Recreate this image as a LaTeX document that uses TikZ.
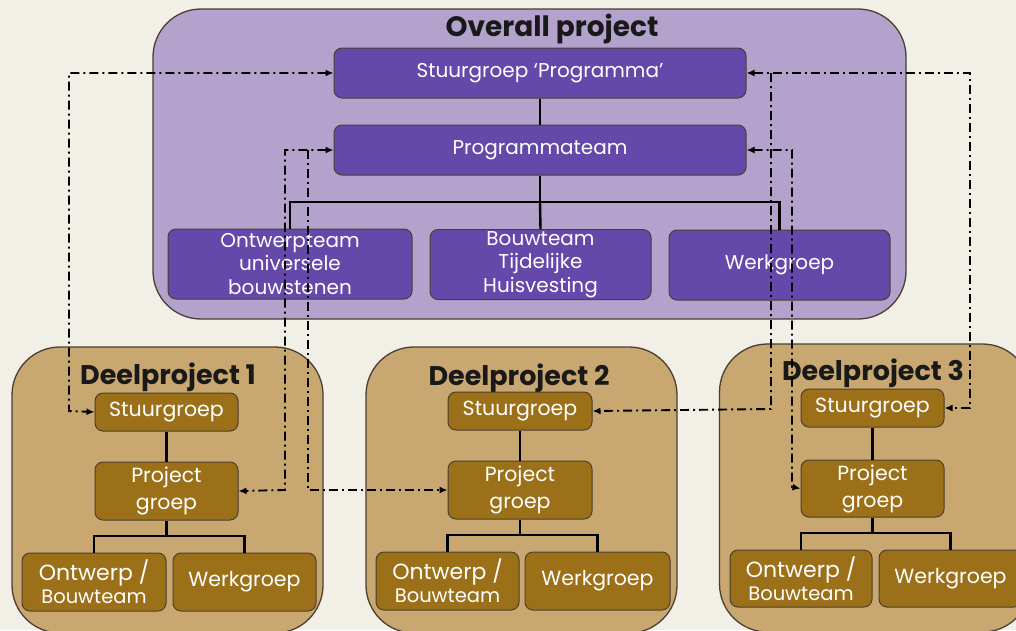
\documentclass[tikz,border=0pt]{standalone}
\usepackage{fontspec}
\setmainfont{Poppins}
\usetikzlibrary{arrows.meta}
\definecolor{bg}{HTML}{F2EFE6}
\definecolor{lav}{HTML}{B3A3CC}
\definecolor{purp}{HTML}{6448AA}
\definecolor{tan}{HTML}{C8A870}
\definecolor{gold}{HTML}{9C7019}
\definecolor{frame}{HTML}{4A3F30}
\tikzset{
  outerbox/.style={draw=frame, line width=1.3pt, rounded corners=48pt, inner sep=0pt},
  pbox/.style={draw=frame, line width=1pt, fill=purp, rounded corners=8pt, text=white, align=center, inner sep=0pt, font=\fontsize{20}{23.5}\selectfont},
  gbox/.style={draw=frame, line width=1pt, fill=gold, rounded corners=8pt, text=white, align=center, inner sep=0pt, font=\fontsize{20.5}{27}\selectfont},
  ttl/.style={font=\fontsize{27}{30}\selectfont\bfseries, text=black!90, inner sep=0pt},
  conn/.style={line width=2.4pt, black},
  dd/.style={line width=1.9pt, black, dash pattern=on 9pt off 4pt on 2pt off 4pt},
  tip/.style={-{Latex[length=8pt,width=7pt]}},
  tips/.style={{Latex[length=8pt,width=7pt]}-{Latex[length=8pt,width=7pt]}}
}
\newcommand{\ontw}{{\fontsize{22}{24}\selectfont Ontwerp /}\\[-4pt]{\fontsize{19.5}{22}\selectfont Bouwteam}}
\begin{document}
\begin{tikzpicture}[x=1pt,y=-1pt]
\useasboundingbox (0,0) rectangle (1016,630);
\clip (0,0) rectangle (1016,630);
\fill[bg] (0,0) rectangle (1016,630);

% outer boxes
\node[outerbox, fill=lav, minimum width=753pt, minimum height=310pt] (ov) at (529.5,164) {};
\node[outerbox, fill=tan, minimum width=311pt, minimum height=286pt] (d1) at (167.5,490) {};
\node[outerbox, fill=tan, minimum width=311pt, minimum height=286pt] (d2) at (521.5,490) {};
\node[outerbox, fill=tan, minimum width=311pt, minimum height=288pt] (d3) at (875,488) {};

% titles
\node[ttl, font=\fontsize{28}{30}\selectfont\bfseries] (tov) at (552,29) {Overall project};
\node[ttl] (td1) at (168,377) {Deelproject 1};
\node[ttl] (td2) at (519,378) {Deelproject 2};
\node[ttl] (td3) at (873,373) {Deelproject 3};

% overall project boxes
\node[pbox, minimum width=412pt, minimum height=50pt] (sp) at (540,73) {Stuurgroep ‘Programma’};
\node[pbox, minimum width=412pt, minimum height=50pt] (pt) at (540,150) {Programmateam};
\node[pbox, minimum width=244pt, minimum height=70pt] (ot) at (290,264) {Ontwerpteam\\universele\\bouwstenen};
\node[pbox, minimum width=221pt, minimum height=70pt] (bt) at (540.5,264.5) {Bouwteam\\Tijdelijke\\Huisvesting};
\node[pbox, minimum width=221pt, minimum height=70pt] (wg) at (779.5,265) {Werkgroep};

% deelproject 1
\node[gbox, minimum width=143pt, minimum height=38pt] (s1) at (166.5,412) {Stuurgroep};
\node[gbox, minimum width=143pt, minimum height=58pt] (p1) at (166.5,491) {Project\\groep};
\node[gbox, minimum width=144pt, minimum height=58pt] (o1) at (94,582) {\ontw};
\node[gbox, minimum width=143pt, minimum height=58pt] (w1) at (244.5,582) {Werkgroep};

% deelproject 2
\node[gbox, minimum width=144pt, minimum height=38pt] (s2) at (520,411) {Stuurgroep};
\node[gbox, minimum width=144pt, minimum height=58pt] (p2) at (520,490) {Project\\groep};
\node[gbox, minimum width=143pt, minimum height=58pt] (o2) at (447.5,581) {\ontw};
\node[gbox, minimum width=145pt, minimum height=58pt] (w2) at (597.5,581) {Werkgroep};

% deelproject 3
\node[gbox, minimum width=143pt, minimum height=38pt] (s3) at (872.5,408) {Stuurgroep};
\node[gbox, minimum width=143pt, minimum height=57pt] (p3) at (872.5,488.5) {Project\\groep};
\node[gbox, minimum width=142pt, minimum height=57pt] (o3) at (801,578.5) {\ontw};
\node[gbox, minimum width=143pt, minimum height=57pt] (w3) at (950.5,578.5) {Werkgroep};

% solid hierarchy connectors
\draw[conn] (sp.south) -- (pt.north);
\draw[conn] (pt.south) -- (540,202) -| (ot.north);
\draw[conn] (540,202) -- (bt.north);
\draw[conn] (540,202) -| (wg.north);

\draw[conn] (s1.south) -- (p1.north);
\draw[conn] (p1.south) -- (166.5,536) -| (o1.north);
\draw[conn] (166.5,536) -| (w1.north);

\draw[conn] (s2.south) -- (p2.north);
\draw[conn] (p2.south) -- (520,535) -| (o2.north);
\draw[conn] (520,535) -| (w2.north);

\draw[conn] (s3.south) -- (p3.north);
\draw[conn] (p3.south) -- (872.5,533) -| (o3.north);
\draw[conn] (872.5,533) -| (w3.north);

% dash-dot connectors
\coordinate (a1) at (69,73);
\coordinate (a2) at (69,411);
\draw[dd, tips] (sp.west) -- (a1) -- (a2) -- (s1.west);

\coordinate (b1) at (970,73);
\coordinate (b2) at (970,408);
\draw[dd, tips] (sp.east) -- (b1) -- (b2) -- (s3.east);

\coordinate (c1) at (285,150);
\coordinate (c2) at (285,490);
\draw[dd, tips] (pt.west) -- (c1) -- (c2) -- (p1.east);

\coordinate (e0) at (308,150);
\coordinate (e1) at (308,490);
\draw[dd, tip] (e0) -- (e1) -- (p2.west);

\coordinate (f1) at (792,150);
\coordinate (f2) at (792,487);
\draw[dd, tips] (pt.east) -- (f1) -- (f2) -- (p3.west);

\coordinate (g0) at (771,73);
\coordinate (g1) at (771,409);
\draw[dd, tip] (g0) -- (g1) -- (s2.east);
\end{tikzpicture}
\end{document}
